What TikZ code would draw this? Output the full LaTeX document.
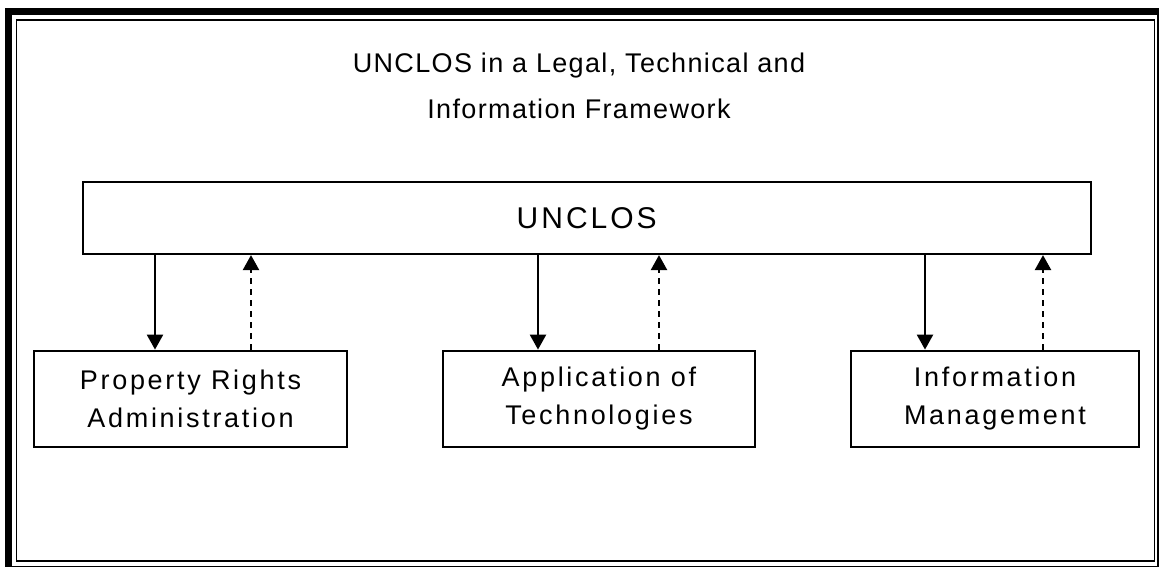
\documentclass[tikz,border=0pt]{standalone}
\usepackage{fontspec}
\setmainfont{Liberation Sans}
\newfontfamily\titlefont{Liberation Sans}[LetterSpace=5]
\newfontfamily\wordfont{Liberation Sans}[LetterSpace=10]
\usetikzlibrary{arrows.meta}
\begin{document}
\begin{tikzpicture}[x=1pt,y=-1pt,
  box/.style={draw,line width=2.2pt,inner sep=0pt,align=center},
  tip/.style={-{Triangle[width=16pt,length=15pt]}},
  down/.style={line width=2.4pt,tip},
  up/.style={line width=2.4pt,tip,dash pattern=on 6pt off 5pt},
  boxfont/.style={font=\wordfont\fontsize{27}{38}\selectfont}]
\useasboundingbox (0,0) rectangle (1159,567);
\fill[white] (0,0) rectangle (1159,567);
% page border
\begin{scope}
\clip (0,0) rectangle (1159,567);
\draw[line width=7pt] (8.5,11.5) rectangle (1160,569);
\draw[line width=1.8pt] (16.5,20) rectangle (1154.5,561);
\end{scope}
% title
\node[align=center,font=\titlefont\fontsize{27}{46}\selectfont] (title) at (579,86)
  {UNCLOS in a Legal, Technical and\\Information Framework};
% boxes
\node[box,minimum width=1008pt,minimum height=72pt,font=\wordfont\fontsize{30}{34}\selectfont] (u) at (586.7,218) {UNCLOS};
\node[box,boxfont,minimum width=312.4pt,minimum height=96pt] (a) at (190.5,398.7) {Property Rights\\Administration};
\node[box,boxfont,minimum width=312.3pt,minimum height=96pt] (b) at (598.9,398.7) {Application of\\Technologies};
\node[box,boxfont,minimum width=288.6pt,minimum height=96pt] (c) at (995,398.7) {Information\\Management};
% connectors
\draw[down] (u.south -| 155,0) -- (a.north -| 155,0);
\draw[up] (a.north -| 251,0) -- (u.south -| 251,0);
\draw[down] (u.south -| 538,0) -- (b.north -| 538,0);
\draw[up] (b.north -| 659,0) -- (u.south -| 659,0);
\draw[down] (u.south -| 925,0) -- (c.north -| 925,0);
\draw[up] (c.north -| 1043,0) -- (u.south -| 1043,0);
\end{tikzpicture}
\end{document}
